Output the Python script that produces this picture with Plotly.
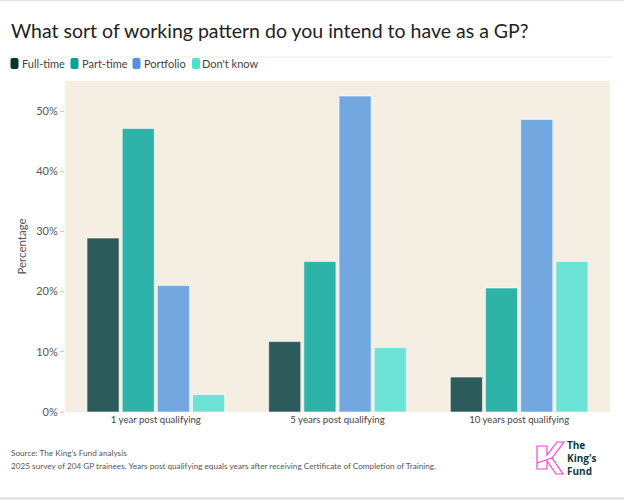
import plotly.graph_objects as go

categories = ["1 year post qualifying", "5 years post qualifying", "10 years post qualifying"]
series_names = ["Full-time", "Part-time", "Portfolio", "Don't know"]
full_time = [28.9, 11.7, 5.8]
part_time = [47.1, 25.0, 20.6]
portfolio = [21.0, 52.5, 48.6]
dont_know = [2.9, 10.7, 25.0]
bar_colors = ["#2d5a5a", "#2db3a8", "#73a7df", "#6ce3d6"]
legend_colors = ["#0b3534", "#0aa094", "#4f92de", "#4fdfcf"]
y_ticks = [0, 10, 20, 30, 40, 50]
y_tick_labels = ["0%", "10%", "20%", "30%", "40%", "50%"]

FONT = "Lato"
W, H = 624, 500
L, R, T, B = 65, 14, 81, 88
PW, PH = W - L - R, H - T - B


def px(x):
    return (x - L) / PW


def py(y):
    return (H - B - y) / PH


fig = go.Figure()
for name, vals, col in zip(series_names, [full_time, part_time, portfolio, dont_know], bar_colors):
    fig.add_trace(go.Bar(
        x=categories, y=vals, name=name,
        marker=dict(color=col, line=dict(color="rgba(255,255,255,0.55)", width=1)),
        showlegend=False,
    ))

shapes = []
annotations = []

# title separator
shapes.append(dict(type="line", xref="paper", yref="paper",
                   x0=px(10), x1=px(613), y0=py(57), y1=py(57),
                   line=dict(color="#f2ebe0", width=1)))

# custom legend
swatch_x = [10.5, 70.5, 132.5, 192]
text_x = [21, 80.5, 142.5, 201]
for nm, col, sx, tx in zip(series_names, legend_colors, swatch_x, text_x):
    shapes.append(dict(type="path", xref="paper", yref="paper",
                       path=(f"M{px(sx+2):.5f},{py(58):.5f} L{px(sx+6):.5f},{py(58):.5f} "
                             f"Q{px(sx+8):.5f},{py(58):.5f} {px(sx+8):.5f},{py(60):.5f} "
                             f"L{px(sx+8):.5f},{py(67):.5f} Q{px(sx+8):.5f},{py(69):.5f} {px(sx+6):.5f},{py(69):.5f} "
                             f"L{px(sx+2):.5f},{py(69):.5f} Q{px(sx):.5f},{py(69):.5f} {px(sx):.5f},{py(67):.5f} "
                             f"L{px(sx):.5f},{py(60):.5f} Q{px(sx):.5f},{py(58):.5f} {px(sx+2):.5f},{py(58):.5f} Z"),
                       fillcolor=col, line=dict(width=0)))
    annotations.append(dict(text=nm, xref="paper", yref="paper",
                            x=px(tx), y=py(63.5),
                            xanchor="left", yanchor="middle", showarrow=False,
                            borderpad=0,
                            font=dict(family=FONT, size=11, color="#444444")))

# title
annotations.append(dict(text="What sort of working pattern do you intend to have as a GP?",
                        xref="paper", yref="paper", x=px(9), y=py(30),
                        xanchor="left", yanchor="middle", showarrow=False,
                        font=dict(family=FONT, size=19.5, color="#222222")))

# footer
annotations.append(dict(text="Source: The King's Fund analysis",
                        xref="paper", yref="paper", x=px(9), y=py(453),
                        xanchor="left", yanchor="middle", showarrow=False,
                        font=dict(family=FONT, size=8.2, color="#555555")))
annotations.append(dict(text="2025 survey of 204 GP trainees. Years post qualifying equals years after receiving Certificate of Completion of Training.",
                        xref="paper", yref="paper", x=px(9), y=py(466),
                        xanchor="left", yanchor="middle", showarrow=False,
                        font=dict(family=FONT, size=8.2, color="#555555")))


# logo
def px_path(pts):
    s = ""
    for i, (x, y) in enumerate(pts):
        s += ("M" if i == 0 else "L") + f"{px(x):.5f},{py(y):.5f} "
    return s + "Z"


k_pts = [(537, 446), (547, 446), (547, 455), (557, 442), (564, 442), (552, 458),
         (563, 474), (556, 474), (547, 461), (547, 469), (537, 469)]
shapes.append(dict(type="path", xref="paper", yref="paper", path=px_path(k_pts),
                   line=dict(color="#ff3fd2", width=1.2), fillcolor="rgba(0,0,0,0)"))
shapes.append(dict(type="line", xref="paper", yref="paper",
                   x0=px(537), y0=py(463), x1=px(552), y1=py(458),
                   line=dict(color="#ff3fd2", width=1.2)))
annotations.append(dict(text="<b>The<br>King's<br>Fund</b>", xref="paper", yref="paper",
                        x=px(566), y=py(458), align="left",
                        xanchor="left", yanchor="middle", showarrow=False, borderpad=0,
                        font=dict(family="Open Sans", size=10, color="#0e3b3a")))

# frame lines
shapes.append(dict(type="line", xref="paper", yref="paper",
                   x0=px(0), x1=px(W), y0=py(0.5), y1=py(0.5),
                   line=dict(color="#e6e6e6", width=1.5)))
shapes.append(dict(type="line", xref="paper", yref="paper",
                   x0=px(0), x1=px(W), y0=py(498.5), y1=py(498.5),
                   line=dict(color="#e6e6e6", width=3)))

fig.update_layout(
    width=W, height=H,
    margin=dict(l=L, r=R, t=T, b=B),
    paper_bgcolor="white",
    plot_bgcolor="#f5efe3",
    barmode="group",
    bargap=0.225,
    bargroupgap=0.09,
    font=dict(family=FONT, size=11, color="#555555"),
    shapes=shapes,
    annotations=annotations,
    showlegend=False,
)
fig.update_xaxes(showgrid=False, ticks="", showline=False, zeroline=False,
                 tickfont=dict(family=FONT, size=9.6, color="#444444"),
                 range=[-0.5, 2.5])
fig.update_yaxes(range=[0, 55], tickmode="array", tickvals=y_ticks, ticktext=y_tick_labels,
                 showgrid=False, zeroline=False, showline=False,
                 ticks="outside", ticklen=4, tickcolor="#cccccc",
                 tickfont=dict(family=FONT, size=11, color="#555555"),
                 title=dict(text="Percentage", font=dict(family=FONT, size=11.5, color="#555555"), standoff=7))

fig.write_html("out.html")
